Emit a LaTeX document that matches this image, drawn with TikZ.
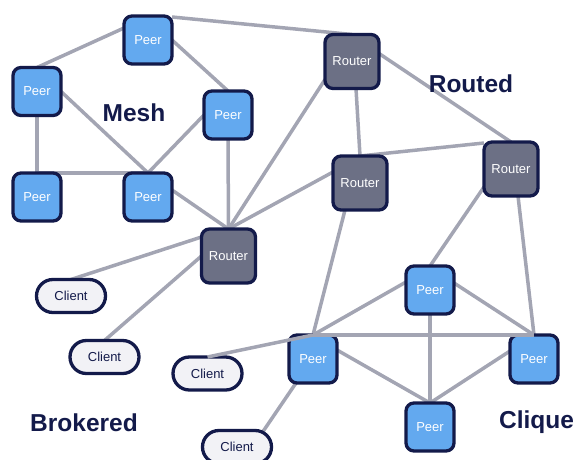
\documentclass[tikz,border=0pt]{standalone}
\usepackage{fontspec}
\setmainfont{Liberation Sans}
\usetikzlibrary{backgrounds}
\definecolor{peerfill}{HTML}{63A9EF}
\definecolor{routerfill}{HTML}{6C7085}
\definecolor{clientfill}{HTML}{F2F2F6}
\definecolor{inkdark}{HTML}{131A4A}
\definecolor{edgegrey}{HTML}{A3A5B3}
\tikzset{
  basebox/.style={draw=inkdark,line width=3.3pt,outer sep=0pt,inner sep=0pt,font=\fontsize{13}{15}\selectfont},
  peerbox/.style={basebox,fill=peerfill,text=white,minimum size=48pt,rounded corners=8pt},
  routerbox/.style={basebox,fill=routerfill,text=white,minimum size=54pt,rounded corners=8pt},
  clientbox/.style={basebox,fill=clientfill,text=inkdark,minimum width=69pt,minimum height=33pt,rounded corners=16.4pt},
  groupname/.style={text=inkdark,font=\fontsize{24.5}{27}\selectfont\bfseries,inner sep=0pt},
  link/.style={draw=edgegrey,line width=3.5pt}
}
\begin{document}
\begin{tikzpicture}[x=1pt,y=-1pt]
\useasboundingbox (0,0) rectangle (573,460);
\clip (0,0) rectangle (573,460);
% boxes
\node[peerbox] (m1) at (148,40) {Peer};
\node[peerbox] (m2) at (37,91.5) {Peer};
\node[peerbox] (m3) at (228,115) {Peer};
\node[peerbox] (m4) at (37,197) {Peer};
\node[peerbox] (m5) at (148,197) {Peer};
\node[routerbox] (rb) at (228.5,256) {Router};
\node[routerbox] (r1) at (352,61.5) {Router};
\node[routerbox] (r2) at (360,183) {Router};
\node[routerbox] (r3) at (511,169) {Router};
\node[peerbox] (c1) at (430,290) {Peer};
\node[peerbox] (c2) at (313,359) {Peer};
\node[peerbox] (c3) at (534,359) {Peer};
\node[peerbox] (c4) at (430,427) {Peer};
\node[clientbox] (k1) at (71,296) {Client};
\node[clientbox] (k2) at (104.5,357) {Client};
\node[clientbox] (k3) at (207.5,373.5) {Client};
\node[clientbox] (k4) at (237,447) {Client};
% connectors beneath the boxes
\begin{scope}[on background layer]
\draw[link] ([yshift=12pt]m1.west) -- (m2.north);
\draw[link] ([yshift=23pt]m1.east) -- (r1.north);
\draw[link] (m1.east) -- (m3.north);
\draw[link] (m2.east) -- (m5.north);
\draw[link] (m2.south) -- (m4.north);
\draw[link] (m4.north) -- (m5.north);
\draw[link] (m3.west) -- (m5.north);
\draw[link] (m3.south) -- (rb.north);
\draw[link] ([yshift=7pt]m5.east) -- (rb.north);
\draw[link] ([yshift=-18pt]r1.west) -- (rb.north);
\draw[link] ([yshift=11pt]r2.west) -- (rb.north);
\draw[link] ([xshift=4pt]r1.south) -- (r2.north);
\draw[link] ([yshift=8pt]r1.east) -- (r3.north);
\draw[link] (r2.north) -- ([yshift=26pt]r3.west);
\draw[link] ([yshift=-18pt]r3.west) -- (c1.north);
\draw[link] ([xshift=7pt]r3.south) -- (c3.north);
\draw[link] ([xshift=-15pt]r2.south) -- (c2.north);
\draw[link] ([yshift=8pt]c1.west) -- (c2.north);
\draw[link] ([yshift=7pt]c1.east) -- (c3.north);
\draw[link] (c1.south) -- (c4.north);
\draw[link] ([yshift=9pt]c2.east) -- (c4.north);
\draw[link] ([yshift=8pt]c3.west) -- (c4.north);
\draw[link] ([xshift=-17pt]c2.south) -- ([xshift=26pt,yshift=-1pt]k4.north);
\draw[link] ([yshift=19pt]rb.west) -- (k1.north);
\draw[link] (rb.west) -- (k2.north);
\end{scope}
% connectors that cross over the top edge of a box
\draw[link] (c2.north) -- (c3.north);
\draw[link] (c2.north) -- (k3.north);
% group names
\node[groupname] (tm) at (134,113) {Mesh};
\node[groupname] (tr) at (471,83.5) {Routed};
\node[groupname] (tb) at (84,422.5) {Brokered};
\node[groupname] (tc) at (536.5,422.5) {Clique};
\end{tikzpicture}
\end{document}
